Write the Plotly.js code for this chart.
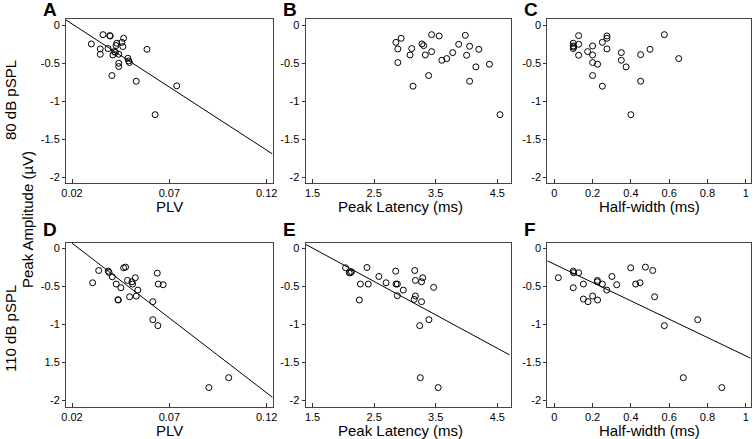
<!DOCTYPE html>
<html>
<head>
<meta charset="utf-8">
<script src="https://cdn.plot.ly/plotly-3.0.1.min.js"></script>
<style>
  body { margin: 0; background: #fff; }
  #chart { width: 754px; height: 439px; }
</style>
</head>
<body>
<div id="chart"></div>
<script>
// 80 dB pSPL row
var plvA = [0.0299, 0.0345, 0.0345, 0.0359, 0.0385, 0.0394, 0.0396, 0.0410, 0.0405, 0.0417, 0.0426, 0.0430, 0.0440,
            0.0440, 0.0440, 0.0456, 0.0461, 0.0465, 0.0423, 0.0487, 0.0491, 0.0495, 0.0530, 0.0585, 0.0627, 0.0738];
var ampA = [-0.249, -0.315, -0.385, -0.127, -0.31, -0.14, -0.145, -0.394, -0.665, -0.35, -0.27, -0.24, -0.385,
            -0.503, -0.547, -0.228, -0.284, -0.175, -0.36, -0.438, -0.473, -0.494, -0.74, -0.32, -1.18, -0.80];
var fitA_x = [0.0169, 0.1230];
var fitA_y = [0.066, -1.697];

var latB = [2.853, 2.885, 2.885, 2.939, 3.083, 3.11, 3.132, 3.277, 3.304, 3.331, 3.385, 3.433, 3.433, 3.556,
            3.599, 3.679, 3.776, 3.873, 3.98, 4.001, 4.05, 4.05, 4.152, 4.2, 4.372, 4.543];
var ampB = [-0.228, -0.315, -0.494, -0.175, -0.394, -0.31, -0.805, -0.249, -0.271, -0.394, -0.665, -0.127, -0.35, -0.144,
            -0.464, -0.442, -0.363, -0.254, -0.136, -0.398, -0.28, -0.74, -0.551, -0.32, -0.516, -1.18];

var hwC = [0.099, 0.099, 0.099, 0.101, 0.127, 0.127, 0.127, 0.174, 0.2, 0.2, 0.2, 0.2, 0.226, 0.251,
           0.251, 0.275, 0.275, 0.275, 0.35, 0.35, 0.375, 0.4, 0.451, 0.451, 0.5, 0.575, 0.65];
var ampC = [-0.24, -0.276, -0.31, -0.29, -0.14, -0.254, -0.398, -0.35, -0.276, -0.394, -0.494, -0.665, -0.516, -0.228,
            -0.805, -0.144, -0.175, -0.315, -0.363, -0.464, -0.551, -1.18, -0.39, -0.74, -0.32, -0.127, -0.442];

// 110 dB pSPL row
var plvD = [0.0306, 0.0337, 0.0386, 0.039, 0.0407, 0.0427, 0.0436, 0.0438, 0.0451, 0.0465, 0.0475, 0.0485, 0.0496,
            0.0508, 0.0511, 0.0525, 0.053, 0.0538, 0.0615, 0.0615, 0.0638, 0.0641, 0.0643, 0.0668, 0.0903, 0.1005];
var ampD = [-0.451, -0.289, -0.298, -0.315, -0.372, -0.468, -0.674, -0.678, -0.516, -0.254, -0.245, -0.42, -0.635,
            -0.438, -0.468, -0.385, -0.626, -0.547, -0.70, -0.937, -0.324, -1.015, -0.468, -0.477, -1.83, -1.70];
var fitD_x = [0.02, 0.1231];
var fitD_y = [0.07, -1.96];

var latE = [2.036, 2.095, 2.116, 2.132, 2.26, 2.277, 2.384, 2.405, 2.577, 2.694, 2.85, 2.855, 2.877, 2.877,
            2.973, 3.15, 3.16, 3.17, 3.17, 3.24, 3.25, 3.27, 3.27, 3.29, 3.39, 3.466, 3.54];
var ampE = [-0.254, -0.319, -0.319, -0.306, -0.678, -0.468, -0.25, -0.468, -0.368, -0.451, -0.298, -0.468, -0.468, -0.621,
            -0.547, -0.67, -0.289, -0.42, -0.625, -1.015, -1.70, -0.438, -0.70, -0.385, -0.937, -0.512, -1.83];
var fitE_x = [1.393, 4.698];
var fitE_y = [0.053, -1.40];

var hwF = [0.021, 0.099, 0.101, 0.099, 0.127, 0.152, 0.152, 0.176, 0.2, 0.225, 0.225, 0.226, 0.251,
           0.274, 0.301, 0.326, 0.399, 0.425, 0.448, 0.476, 0.514, 0.524, 0.575, 0.674, 0.749, 0.875];
var ampF = [-0.385, -0.298, -0.319, -0.516, -0.319, -0.468, -0.665, -0.70, -0.626, -0.42, -0.438, -0.678, -0.468,
            -0.547, -0.368, -0.477, -0.254, -0.468, -0.451, -0.245, -0.289, -0.635, -1.015, -1.70, -0.937, -1.83];
var fitF_x = [-0.0366, 1.026];
var fitF_y = [-0.162, -1.444];

// ticks
var plvTicks = [0.02, 0.07, 0.12];
var latTicks = [1.5, 2.5, 3.5, 4.5];
var hwTicks = [0, 0.2, 0.4, 0.6, 0.8, 1];
var ampTicks = [0, -0.5, -1, -1.5, -2];
var ampText = ['0', '-0.5', '-1', '-1.5', '-2'];
var ampTextD = ['0', '-0.5', '-1', '1.5', '-2'];   // minus sign missing in the original panel D

var panelLetters = ['A', 'B', 'C', 'D', 'E', 'F'];
var xTitles = ['PLV', 'Peak Latency (ms)', 'Half-width (ms)'];
var rowTitles = ['80 dB pSPL', '110 dB pSPL'];

var W = 754, H = 439;
var FONT = 'Arial, "Liberation Sans", sans-serif';

function dots(x, y, n) {
  return {
    x: x, y: y, xaxis: 'x' + n, yaxis: 'y' + n,
    type: 'scatter', mode: 'markers', hoverinfo: 'skip',
    marker: { symbol: 'circle-open', size: 6, color: '#000', line: { width: 1, color: '#000' } }
  };
}

function fit(x, y, n) {
  return {
    x: x, y: y, xaxis: 'x' + n, yaxis: 'y' + n,
    type: 'scatter', mode: 'lines', hoverinfo: 'skip',
    line: { color: '#000', width: 1 }
  };
}

var data = [
  dots(plvA, ampA, ''), fit(fitA_x, fitA_y, ''),
  dots(latB, ampB, '2'),
  dots(hwC, ampC, '3'),
  dots(plvD, ampD, '4'), fit(fitD_x, fitD_y, '4'),
  dots(latE, ampE, '5'), fit(fitE_x, fitE_y, '5'),
  dots(hwF, ampF, '6'), fit(fitF_x, fitF_y, '6')
];

// pixel boxes of the six panels
var colPx = [[66, 272.5], [305.5, 511], [547.3, 750.7]];
var rowPx = [[19, 183], [242.5, 406.5]];
var letterY = [10, 229.5];
var xRanges = [[0.0169, 0.1230], [1.386, 4.722], [-0.0366, 1.026]];
var xTickSets = [plvTicks, latTicks, hwTicks];

var layout = {
  width: W, height: H,
  margin: { l: 0, r: 0, t: 0, b: 0 },
  paper_bgcolor: '#fff', plot_bgcolor: '#fff',
  showlegend: false,
  font: { family: FONT, color: '#000', size: 11 },
  annotations: []
};

for (var r = 0; r < 2; r++) {
  for (var c = 0; c < 3; c++) {
    var k = r * 3 + c + 1;
    var sfx = k === 1 ? '' : String(k);
    var xd = [colPx[c][0] / W, colPx[c][1] / W];
    var yd = [1 - rowPx[r][1] / H, 1 - rowPx[r][0] / H];
    layout['xaxis' + sfx] = {
      domain: xd, range: xRanges[c], anchor: 'y' + sfx,
      tickmode: 'array', tickvals: xTickSets[c], ticktext: xTickSets[c].map(String),
      ticks: 'inside', ticklen: 4, tickwidth: 1, tickcolor: '#333',
      showline: true, linecolor: '#444', linewidth: 1, mirror: true,
      showgrid: false, zeroline: false,
      tickfont: { size: 11, color: '#000' }
    };
    layout['yaxis' + sfx] = {
      domain: yd, range: [-2.079, 0.079], anchor: 'x' + sfx,
      tickmode: 'array', tickvals: ampTicks, ticktext: k === 4 ? ampTextD : ampText,
      ticks: 'outside', ticklen: 3, tickwidth: 1, tickcolor: '#333',
      showline: true, linecolor: '#444', linewidth: 1, mirror: true,
      showgrid: false, zeroline: false,
      tickfont: { size: 11, color: '#000' }
    };

    // panel letter
    layout.annotations.push({
      xref: 'paper', yref: 'paper', x: (colPx[c][0] - 24) / W, y: 1 - letterY[r] / H,
      xanchor: 'left', yanchor: 'middle', showarrow: false, borderpad: 0,
      text: '<b>' + panelLetters[k - 1] + '</b>', font: { size: 19, family: FONT, color: '#000' }
    });
    // x-axis title
    var titleX = c === 1 ? 400 : (colPx[c][0] + colPx[c][1]) / 2;
    layout.annotations.push({
      xref: 'paper', yref: 'paper', x: titleX / W, y: 1 - (rowPx[r][1] + 23.5) / H,
      xanchor: 'center', yanchor: 'middle', showarrow: false,
      text: xTitles[c], font: { size: 15, family: FONT, color: '#000' }
    });
  }
  // row title
  layout.annotations.push({
    xref: 'paper', yref: 'paper', x: 10 / W, y: 1 - (r === 0 ? 100 : 329) / H,
    xanchor: 'center', yanchor: 'middle', showarrow: false, textangle: -90,
    text: rowTitles[r], font: { size: 15, family: FONT, color: '#000' }
  });
}

layout.annotations.push({
  xref: 'paper', yref: 'paper', x: 27 / W, y: 1 - 220 / H,
  xanchor: 'center', yanchor: 'middle', showarrow: false, textangle: -90,
  text: 'Peak Amplitude (\u00b5V)', font: { size: 15, family: FONT, color: '#000' }
});

Plotly.newPlot('chart', data, layout, { staticPlot: true });
</script>
</body>
</html>
